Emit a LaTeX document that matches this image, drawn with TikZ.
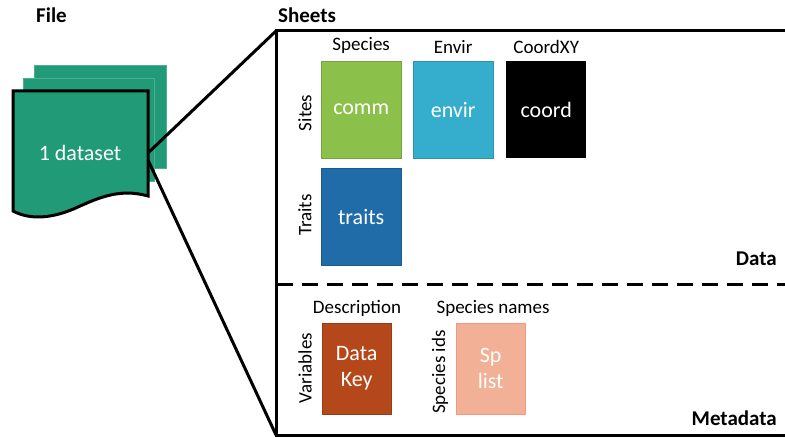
\documentclass[tikz,border=0pt]{standalone}
\usepackage{fontspec}
\setmainfont{Carlito}
\usetikzlibrary{positioning}
\definecolor{filegreen}{HTML}{219B77}
\definecolor{commgreen}{HTML}{8BC14A}
\definecolor{envirblue}{HTML}{35AECE}
\definecolor{traitsblue}{HTML}{1F6CA8}
\definecolor{keyrust}{HTML}{B5481A}
\definecolor{spsalmon}{HTML}{F2B096}
\tikzset{
  sheet/.style={anchor=north west, minimum width=80pt, minimum height=97pt,
    inner sep=0pt, text=white, font=\fontsize{22}{26}\selectfont, align=center},
  metasheet/.style={sheet, minimum width=69pt, minimum height=91pt},
  sheetlabel/.style={font=\fontsize{19}{22}\selectfont, inner sep=0pt},
  sidelabel/.style={sheetlabel, rotate=90},
  title/.style={font=\bfseries\fontsize{21}{24}\selectfont, inner sep=0pt}
}
\begin{document}
\begin{tikzpicture}[x=1pt, y=-1pt]
    \useasboundingbox (0,0) rectangle (785,438);

    % Titles
    \node[title, anchor=west] (filetitle) at (36,15) {File};
    \node[title, anchor=west] (sheetstitle) at (278,15) {Sheets};

    % Stacked file pages
    \fill[filegreen, draw=filegreen!80!white, thin] (34,65) rectangle (166,168);
    \fill[filegreen, draw=filegreen!80!white, thin] (23,78) rectangle (154,181);
    \draw[line width=3pt, fill=filegreen, line join=miter]
      (13,91) -- (148,91) -- (148,196)
      .. controls (120,188) and (98,198) .. (78,207)
      .. controls (52,219) and (30,220) .. (13,211) -- cycle;
    \node[text=white, font=\fontsize{22}{26}\selectfont] (dataset) at (80,153) {1 dataset};

    % Sheets frame
    \coordinate (topleft) at (276,31);
    \coordinate (bottomleft) at (276,435);
    \coordinate (docright) at (148,153);
    \coordinate (docrightlow) at (148,160);
    \draw[line width=3pt, line join=miter] (785,31) -- (topleft) -- (bottomleft) -- (785,435);
    \draw[line width=3pt] (docright) -- (topleft);
    \draw[line width=3pt] (docrightlow) -- (bottomleft);

    % Data / metadata split
    \draw[line width=3pt, dash pattern=on 16pt off 9pt] (277,285) -- (785,285);
    \node[title, anchor=east] (datatitle) at (777,259) {Data};
    \node[title, anchor=east] (metatitle) at (777,418) {Metadata};

    % Data sheets
    \node[sheet, fill=commgreen, draw=commgreen!85!black] (comm) at (321,61) {comm};
    \node[sheet, fill=envirblue, draw=envirblue!85!black] (envir) at (413,61) {envir};
    \node[sheet, fill=black] (coord) at (506,61) {coord};
    \node[sheet, fill=traitsblue, draw=traitsblue!85!black] (traits) at (321,168) {traits};
    \node[sheetlabel, above=7pt of comm] (species) {Species};
    \node[sheetlabel, above=7pt of envir] (envirlab) {Envir};
    \node[sheetlabel, above=7pt of coord] (coordxy) {CoordXY};
    \node[sidelabel] (sites) at (305,113) {Sites};
    \node[sidelabel] (traitslab) at (305,215) {Traits};

    % Metadata sheets
    \node[metasheet, fill=keyrust, draw=keyrust!85!black] (datakey) at (322,323) {Data\\Key};
    \node[metasheet, fill=spsalmon, draw=spsalmon!85!red] (splist) at (456,323) {Sp\\list};
    \node[sheetlabel] (description) at (357,308) {Description};
    \node[sheetlabel] (spnames) at (493,308) {Species names};
    \node[sidelabel] (variables) at (305,368) {Variables};
    \node[sidelabel] (spids) at (440,372) {Species ids};
\end{tikzpicture}
\end{document}
